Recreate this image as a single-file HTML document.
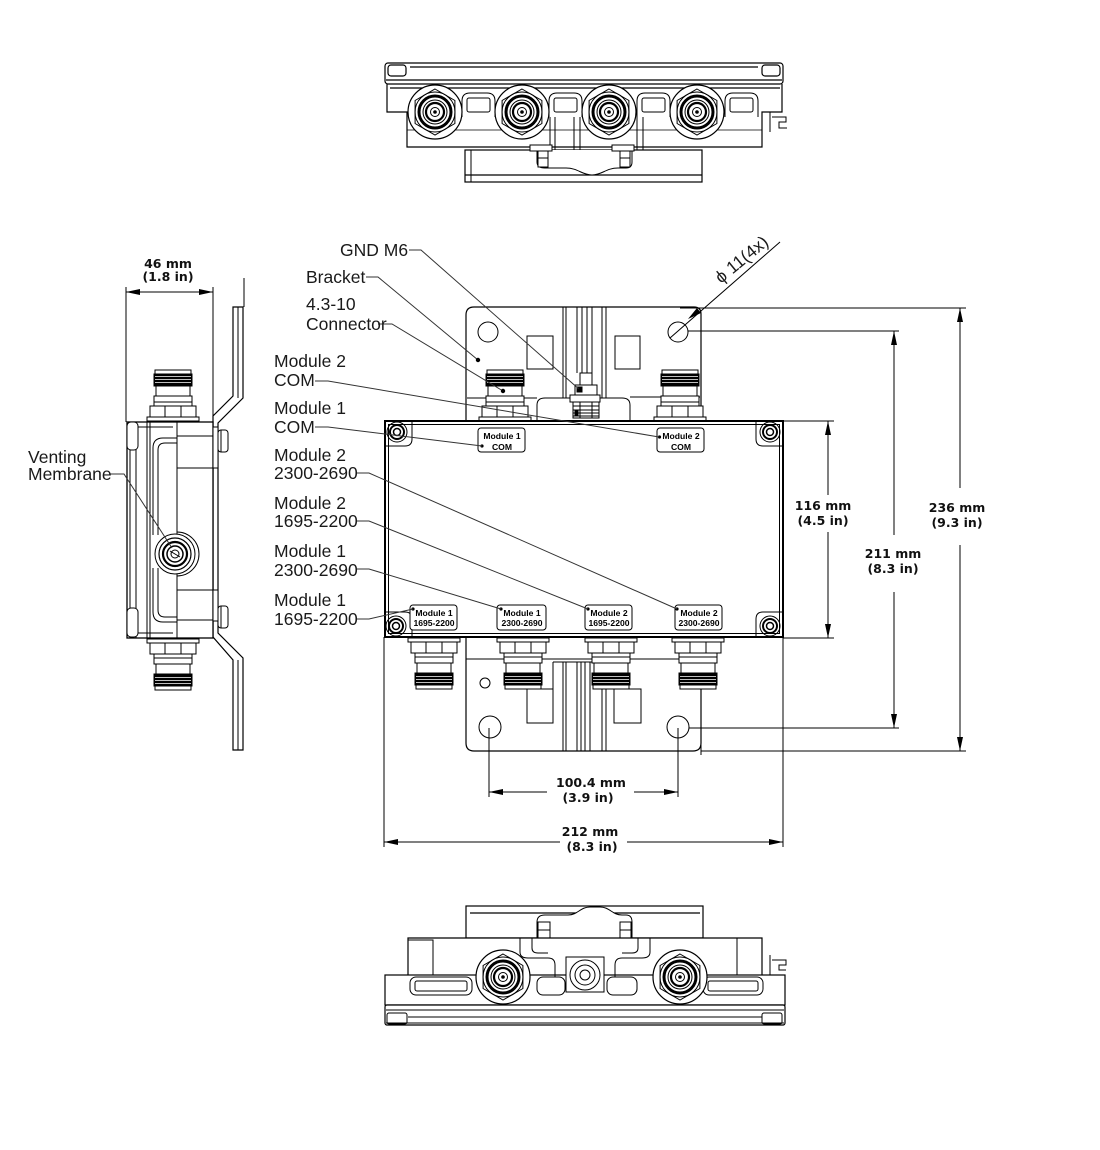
<!DOCTYPE html>
<html><head><meta charset="utf-8"><style>
html,body{margin:0;padding:0;background:#fff;}
svg{display:block;}
.lb{font-family:"Liberation Sans",Arial,sans-serif;font-size:17.5px;fill:#1a1a1a;}
.dm{font-family:"DejaVu Sans","Liberation Sans",sans-serif;font-weight:bold;font-size:12.5px;fill:#111;text-anchor:middle;}
.tg{font-family:"Liberation Sans",Arial,sans-serif;font-weight:bold;font-size:8.6px;fill:#000;text-anchor:middle;}
</style></head><body>
<svg width="1100" height="1150" viewBox="0 0 1100 1150" xmlns="http://www.w3.org/2000/svg">
<defs>
<g id="cd" stroke="#000" stroke-width="1">
 <rect x="-26" y="0" width="52" height="4" fill="#fff"/>
 <rect x="-23" y="4" width="46" height="11" fill="#fff"/>
 <line x1="-8" y1="4" x2="-8" y2="15"/><line x1="8" y1="4" x2="8" y2="15"/>
 <rect x="-19" y="15" width="38" height="10" fill="#fff"/>
 <line x1="-19" y1="19" x2="19" y2="19"/>
 <rect x="-17" y="25" width="34" height="10" fill="#fff"/>
 <rect x="-19" y="35" width="38" height="12" fill="#000"/>
 <line x1="-18" y1="38.5" x2="18" y2="38.5" stroke="#fff" stroke-width="0.8"/>
 <line x1="-18" y1="41.5" x2="18" y2="41.5" stroke="#fff" stroke-width="0.8"/>
 <line x1="-18" y1="44.5" x2="18" y2="44.5" stroke="#fff" stroke-width="0.8"/>
 <rect x="-18" y="47" width="36" height="4" fill="#fff"/>
</g>
<g id="cf" fill="none" stroke="#000">
 <circle r="27" stroke-width="1.2" fill="#fff"/>
 <polygon points="0,-23 19.9,-11.5 19.9,11.5 0,23 -19.9,11.5 -19.9,-11.5" stroke-width="1"/>
 <circle r="20" stroke-width="1"/>
 <circle r="16" stroke-width="3"/>
 <circle r="12" stroke-width="1"/>
 <circle r="9" stroke-width="2.2"/>
 <circle r="4.5" stroke-width="1"/>
 <circle r="1.8" fill="#000" stroke="none"/>
</g>
<g id="slot" fill="none" stroke="#000" stroke-width="1">
 <path d="M0,24 V8 Q0,0 8,0 H25 Q33,0 33,8 V24"/>
 <rect x="5" y="5" width="23" height="14" rx="2"/>
</g>
<g id="scr" fill="none" stroke="#000">
 <circle r="10" stroke-width="1"/>
 <circle r="7" stroke-width="2"/>
 <circle r="3.5" stroke-width="1.5"/>
</g>
</defs>

<!-- ================= TOP VIEW ================= -->
<g fill="none" stroke="#000" stroke-width="1.2">
 <rect x="385" y="63" width="398" height="21" rx="3" fill="#fff"/>
 <line x1="410" y1="67" x2="758" y2="67"/>
 <line x1="386" y1="80" x2="782" y2="80"/>
 <rect x="388" y="65" width="18" height="11" rx="3"/>
 <rect x="762" y="65" width="18" height="11" rx="3"/>
 <path d="M387,84 V112 H407 V147 H762 V112 H782 V84"/>
 <line x1="390" y1="88" x2="780" y2="88"/>
 <path d="M770,112 V132 M772,117 H786 V122 H779 V128 H787" stroke-width="1"/>
 <line x1="407" y1="130" x2="762" y2="130" stroke-width="0.8"/>
 <use href="#slot" x="462" y="93"/>
 <use href="#slot" x="549" y="93"/>
 <use href="#slot" x="637" y="93"/>
 <use href="#slot" x="725" y="93"/>
 <path d="M550,117 V150 M555,117 V150 M574,117 V150 M580,117 V150 M637,117 V150 M643,117 V150" stroke-width="1"/>
 <!-- bracket -->
 <rect x="465" y="150" width="237" height="32" fill="#fff"/>
 <line x1="465" y1="175" x2="702" y2="175"/>
 <line x1="471" y1="150" x2="471" y2="182" stroke-width="1"/>
 <path d="M537,150 V162 Q537,168 545,168 H566 C578,168 582,175 592,175 C602,175 606,168 618,168 H626 Q632,168 632,162 V150" stroke-width="1" fill="#fff"/>
 <rect x="538" y="151" width="10" height="16" stroke-width="1" fill="#fff"/>
 <line x1="538" y1="158" x2="548" y2="158" stroke-width="1"/>
 <rect x="620" y="151" width="10" height="16" stroke-width="1" fill="#fff"/>
 <line x1="620" y1="158" x2="630" y2="158" stroke-width="1"/>
 <rect x="530" y="145" width="22" height="6" stroke-width="1" fill="#fff"/>
 <rect x="612" y="145" width="22" height="6" stroke-width="1" fill="#fff"/>
</g>
<use href="#cf" x="435" y="112"/>
<use href="#cf" x="522" y="112"/>
<use href="#cf" x="609" y="112"/>
<use href="#cf" x="697" y="112"/>

<!-- ================= SIDE VIEW ================= -->
<g fill="none" stroke="#000" stroke-width="1">
 <path d="M243,307 V398 L218,423 V633 L243,658 V750 H233 V660 L213,637 V416 L233,396 V307 Z" fill="#fff" stroke-width="1.2"/>
 <line x1="238" y1="307" x2="238" y2="398"/>
 <line x1="238" y1="660" x2="238" y2="750"/>
 <line x1="244" y1="278" x2="244" y2="307"/>
 <rect x="127" y="422" width="86" height="216" fill="#fff" stroke-width="1.3"/>
 <line x1="130" y1="422" x2="130" y2="638"/>
 <line x1="136" y1="422" x2="136" y2="638"/>
 <line x1="147" y1="420" x2="147" y2="640"/>
 <line x1="150" y1="422" x2="150" y2="638"/>
 <line x1="177" y1="420" x2="177" y2="640"/>
 <rect x="127" y="422" width="11" height="28" rx="4" fill="#fff"/>
 <rect x="127" y="608" width="11" height="29" rx="4" fill="#fff"/>
 <line x1="138" y1="427" x2="173" y2="427"/>
 <line x1="138" y1="633" x2="173" y2="633"/>
 <path d="M153,535 V448 Q153,438 163,438 H177 M158,535 V450 Q158,443 165,443 H177" />
 <path d="M153,568 V612 Q153,622 163,622 H177 M158,568 V610 Q158,617 165,617 H177" />
 <line x1="177" y1="436" x2="213" y2="436"/>
 <line x1="177" y1="468" x2="213" y2="468"/>
 <line x1="177" y1="590" x2="213" y2="590"/>
 <line x1="177" y1="620" x2="213" y2="620"/>
 <rect x="213" y="427" width="5" height="41" fill="#fff"/>
 <rect x="213" y="590" width="5" height="31" fill="#fff"/>
 <rect x="218" y="430" width="10" height="22" rx="3" fill="#fff"/>
 <rect x="218" y="606" width="10" height="22" rx="3" fill="#fff"/>
 <line x1="221" y1="430" x2="221" y2="452"/>
 <line x1="221" y1="606" x2="221" y2="628"/>
 <!-- membrane -->
 <path d="M177,532 A22,22 0 0 1 177,576" stroke-width="1"/>
 <circle cx="175" cy="554" r="20" fill="#fff"/>
 <circle cx="175" cy="554" r="16" stroke-width="1.2"/>
 <circle cx="175" cy="554" r="12" stroke-width="2.2"/>
 <circle cx="175" cy="554" r="8" stroke-width="1.5"/>
 <circle cx="175" cy="554" r="4" stroke-width="1"/>
 <line x1="170" y1="551" x2="180" y2="557" stroke-width="1"/>
</g>
<use href="#cd" transform="translate(173,421) scale(1,-1)"/>
<use href="#cd" transform="translate(173,639)"/>

<!-- ================= MAIN VIEW ================= -->
<g fill="none" stroke="#000" stroke-width="1">
 <!-- bracket -->
 <path d="M474,307 H694 Q701,307 701,314 V743 Q701,751 693,751 H474 Q466,751 466,743 V315 Q466,307 474,307 Z" fill="#fff" stroke-width="1.2"/>
 <circle cx="488" cy="332" r="10"/>
 <circle cx="678" cy="332" r="10"/>
 <circle cx="490" cy="727" r="11"/>
 <circle cx="678" cy="727" r="11"/>
 <circle cx="485" cy="683" r="5"/>
 <rect x="527" y="336" width="26" height="33"/>
 <rect x="615" y="336" width="25" height="33"/>
 <rect x="527" y="689" width="26" height="34"/>
 <rect x="614" y="689" width="27" height="34"/>
 <path d="M563,307 V398 M566,307 V398 M602,307 V398 M606,307 V398"/>
 <path d="M577,307 V373 M582,307 V373 M587,307 V373 M592,307 V373"/>
 <path d="M563,662 V751 M566,662 V751 M577,662 V751 M581,662 V751 M585,662 V751 M590,662 V751 M602,662 V751 M606,662 V751"/>
 <line x1="467" y1="398" x2="537" y2="398"/>
 <line x1="630" y1="397" x2="700" y2="397"/>
 <path d="M537,421 V405 Q537,398 545,398 H622 Q630,398 630,405 V421"/>
 <line x1="466" y1="659" x2="701" y2="659"/>
 <line x1="553" y1="662" x2="620" y2="662"/>
 <line x1="553" y1="662" x2="553" y2="689"/>
 <line x1="701" y1="689" x2="701" y2="755"/>
 <!-- GND stud -->
 <rect x="580" y="373" width="12" height="12" fill="#fff"/>
 <rect x="575" y="385" width="22" height="10" fill="#fff"/>
 <rect x="577" y="387" width="5" height="5" fill="#000"/>
 <rect x="570" y="395" width="30" height="7" fill="#fff"/>
 <rect x="573" y="402" width="26" height="16" fill="#fff"/>
 <path d="M573,406 H599 M573,410 H599 M573,413 H599 M573,416 H599 M580,402 V418 M592,402 V418"/>
 <rect x="575" y="411" width="3" height="4" fill="#000"/>
</g>
<use href="#cd" transform="translate(505,421) scale(1,-1)"/>
<use href="#cd" transform="translate(680,421) scale(1,-1)"/>
<g fill="none" stroke="#000">
 <rect x="385" y="421" width="398" height="216" fill="#fff" stroke-width="2"/>
 <rect x="388.5" y="424.5" width="391" height="209" stroke-width="1"/>
 <path d="M386,446 H405 Q412,446 412,439 V422" stroke-width="1"/>
 <path d="M782,446 H763 Q756,446 756,439 V422" stroke-width="1"/>
 <path d="M386,612 H405 Q412,612 412,619 V636" stroke-width="1"/>
 <path d="M782,612 H763 Q756,612 756,619 V636" stroke-width="1"/>
</g>
<use href="#scr" x="397" y="432"/>
<use href="#scr" x="770" y="432"/>
<use href="#scr" x="396" y="626"/>
<use href="#scr" x="770" y="626"/>
<use href="#cd" x="434" y="638"/>
<use href="#cd" x="523" y="638"/>
<use href="#cd" x="611" y="638"/>
<use href="#cd" x="698" y="638"/>

<!-- module tags -->
<g fill="#fff" stroke="#000" stroke-width="1">
 <rect x="478" y="428" width="47" height="24" rx="3"/>
 <rect x="657" y="428" width="47" height="24" rx="3"/>
 <rect x="410" y="605" width="47" height="25" rx="3"/>
 <rect x="497" y="605" width="49" height="25" rx="3"/>
 <rect x="585" y="605" width="47" height="25" rx="3"/>
 <rect x="675" y="605" width="47" height="25" rx="3"/>
</g>
<g fill="#000">
 <circle cx="482" cy="446" r="1.6"/><circle cx="659.5" cy="437" r="1.6"/>
 <circle cx="413" cy="609" r="1.6"/><circle cx="501" cy="609" r="1.6"/>
 <circle cx="588" cy="609" r="1.6"/><circle cx="677" cy="609" r="1.6"/>
</g>
<text class="tg" x="502" y="439">Module 1</text><text class="tg" x="502" y="450">COM</text>
<text class="tg" x="681" y="439">Module 2</text><text class="tg" x="681" y="450">COM</text>
<text class="tg" x="434" y="616">Module 1</text><text class="tg" x="434" y="626">1695-2200</text>
<text class="tg" x="522" y="616">Module 1</text><text class="tg" x="522" y="626">2300-2690</text>
<text class="tg" x="609" y="616">Module 2</text><text class="tg" x="609" y="626">1695-2200</text>
<text class="tg" x="699" y="616">Module 2</text><text class="tg" x="699" y="626">2300-2690</text>

<!-- ================= BOTTOM VIEW ================= -->
<g fill="none" stroke="#000" stroke-width="1.2">
 <rect x="466" y="906" width="237" height="32" fill="#fff"/>
 <line x1="470" y1="913" x2="700" y2="913"/>
 <path d="M537,938 V922 Q537,915 545,915 H568 C578,915 580,907 590,907 H600 C610,907 612,915 622,915 H626 Q632,915 632,922 V938" stroke-width="1" fill="#fff"/>
 <rect x="538" y="922" width="12" height="16" stroke-width="1" fill="#fff"/>
 <rect x="620" y="922" width="11" height="16" stroke-width="1" fill="#fff"/>
 <line x1="538" y1="930" x2="550" y2="930" stroke-width="1"/>
 <line x1="620" y1="930" x2="631" y2="930" stroke-width="1"/>
 <path d="M408,975 V938 H762 V975" fill="#fff"/>
 <rect x="408" y="940" width="25" height="35" stroke-width="1"/>
 <line x1="737" y1="938" x2="737" y2="975" stroke-width="1"/>
 <rect x="385" y="975" width="400" height="30" fill="#fff"/>
 <rect x="385" y="1005" width="400" height="20" rx="2" fill="#fff"/>
 <line x1="386" y1="1010" x2="784" y2="1010" stroke-width="1"/>
 <line x1="408" y1="1017" x2="762" y2="1017" stroke-width="1"/>
 <line x1="386" y1="1023" x2="784" y2="1023" stroke-width="1"/>
 <rect x="387" y="1013" width="20" height="11" rx="2" stroke-width="1"/>
 <rect x="762" y="1013" width="20" height="11" rx="2" stroke-width="1"/>
 <path d="M770,955 V975 M772,960 H786 V965 H779 V970 H786" stroke-width="1"/>
 <rect x="410" y="977" width="62" height="18" rx="6" stroke-width="1"/>
 <rect x="415" y="981" width="52" height="10" rx="2" stroke-width="1"/>
 <rect x="703" y="977" width="60" height="18" rx="6" stroke-width="1"/>
 <rect x="708" y="981" width="50" height="10" rx="2" stroke-width="1"/>
 <rect x="537" y="977" width="28" height="18" rx="6" stroke-width="1"/>
 <rect x="607" y="977" width="30" height="18" rx="6" stroke-width="1"/>
 <path d="M520,938 V952 Q520,958 528,958 H548 Q555,958 555,965 V977 M532,938 V948 Q532,953 538,953 H548" stroke-width="1"/>
 <path d="M650,938 V952 Q650,958 642,958 H622 Q615,958 615,965 V977 M638,938 V948 Q638,953 632,953 H622" stroke-width="1"/>
 <rect x="566" y="957" width="38" height="35" fill="#fff" stroke-width="1"/>
 <circle cx="585" cy="975" r="15" stroke-width="1"/>
 <circle cx="585" cy="975" r="10" stroke-width="1"/>
 <circle cx="585" cy="975" r="5" stroke-width="1"/>
</g>
<use href="#cf" x="503" y="977"/>
<use href="#cf" x="680" y="977"/>

<!-- ================= LEADERS & LABELS ================= -->
<g fill="none" stroke="#333" stroke-width="1">
 <path d="M409,250 H421 L580,390"/>
 <path d="M366,277 H378 L478,360"/>
 <path d="M378,324 H392 L503,391"/>
 <path d="M315,381 H328 L659,437"/>
 <path d="M315,427 H328 L482,446"/>
 <path d="M357,473 H369 L677,609"/>
 <path d="M357,521 H369 L588,609"/>
 <path d="M357,569 H369 L501,609"/>
 <path d="M357,619 H369 L413,609"/>
 <path d="M110,474 H124 L172,548"/>
</g>
<g fill="#000">
 <circle cx="478" cy="360" r="2.2"/>
 <circle cx="503" cy="391" r="2.2"/>
 <circle cx="580" cy="390" r="2.2"/>
</g>
<text class="lb" x="340" y="256">GND M6</text>
<text class="lb" x="306" y="283">Bracket</text>
<text class="lb" x="306" y="310">4.3-10</text>
<text class="lb" x="306" y="330">Connector</text>
<text class="lb" x="274" y="367">Module 2</text>
<text class="lb" x="274" y="386">COM</text>
<text class="lb" x="274" y="414">Module 1</text>
<text class="lb" x="274" y="433">COM</text>
<text class="lb" x="274" y="461">Module 2</text>
<text class="lb" x="274" y="479">2300-2690</text>
<text class="lb" x="274" y="509">Module 2</text>
<text class="lb" x="274" y="527">1695-2200</text>
<text class="lb" x="274" y="557">Module 1</text>
<text class="lb" x="274" y="576">2300-2690</text>
<text class="lb" x="274" y="606">Module 1</text>
<text class="lb" x="274" y="625">1695-2200</text>
<text class="lb" x="28" y="463">Venting</text>
<text class="lb" x="28" y="480">Membrane</text>
<text class="lb" transform="translate(721,284) rotate(-39.5)">ϕ 11(4x)</text>

<!-- ================= DIMENSIONS ================= -->
<g fill="none" stroke="#000" stroke-width="1">
 <!-- 46 -->
 <line x1="126" y1="287" x2="126" y2="422"/>
 <line x1="213" y1="287" x2="213" y2="418"/>
 <line x1="126" y1="292" x2="213" y2="292"/>
 <!-- phi leader -->
 <line x1="780" y1="242" x2="670" y2="338"/>
 <!-- 116 -->
 <line x1="783" y1="421" x2="834" y2="421"/>
 <line x1="783" y1="638" x2="834" y2="638"/>
 <line x1="828" y1="421" x2="828" y2="495"/>
 <line x1="828" y1="532" x2="828" y2="638"/>
 <!-- 211 -->
 <line x1="688" y1="331" x2="899" y2="331"/>
 <line x1="689" y1="728" x2="899" y2="728"/>
 <line x1="894" y1="331" x2="894" y2="535"/>
 <line x1="894" y1="592" x2="894" y2="728"/>
 <!-- 236 -->
 <line x1="680" y1="308" x2="966" y2="308"/>
 <line x1="701" y1="751" x2="966" y2="751"/>
 <line x1="960" y1="308" x2="960" y2="488"/>
 <line x1="960" y1="545" x2="960" y2="751"/>
 <!-- 100.4 -->
 <line x1="489" y1="728" x2="489" y2="797"/>
 <line x1="678" y1="728" x2="678" y2="797"/>
 <line x1="489" y1="792" x2="547" y2="792"/>
 <line x1="634" y1="792" x2="678" y2="792"/>
 <!-- 212 -->
 <line x1="384" y1="637" x2="384" y2="847"/>
 <line x1="783" y1="637" x2="783" y2="847"/>
 <line x1="384" y1="842" x2="560" y2="842"/>
 <line x1="627" y1="842" x2="783" y2="842"/>
</g>
<g fill="#000">
 <polygon points="126,292 140,289 140,295"/>
 <polygon points="213,292 199,289 199,295"/>
 <polygon points="688,319 697,308 701,313"/>
 <polygon points="828,421 825,435 831,435"/>
 <polygon points="828,638 825,624 831,624"/>
 <polygon points="894,331 891,345 897,345"/>
 <polygon points="894,728 891,714 897,714"/>
 <polygon points="960,308 957,322 963,322"/>
 <polygon points="960,751 957,737 963,737"/>
 <polygon points="489,792 503,789 503,795"/>
 <polygon points="678,792 664,789 664,795"/>
 <polygon points="384,842 398,839 398,845"/>
 <polygon points="783,842 769,839 769,845"/>
</g>
<text class="dm" x="168" y="268">46 mm</text>
<text class="dm" x="168" y="281">(1.8 in)</text>
<text class="dm" x="823" y="510">116 mm</text>
<text class="dm" x="823" y="525">(4.5 in)</text>
<text class="dm" x="893" y="558">211 mm</text>
<text class="dm" x="893" y="573">(8.3 in)</text>
<text class="dm" x="957" y="512">236 mm</text>
<text class="dm" x="957" y="527">(9.3 in)</text>
<text class="dm" x="591" y="787">100.4 mm</text>
<text class="dm" x="588" y="802">(3.9 in)</text>
<text class="dm" x="590" y="836">212 mm</text>
<text class="dm" x="592" y="851">(8.3 in)</text>
</svg>
</body></html>
